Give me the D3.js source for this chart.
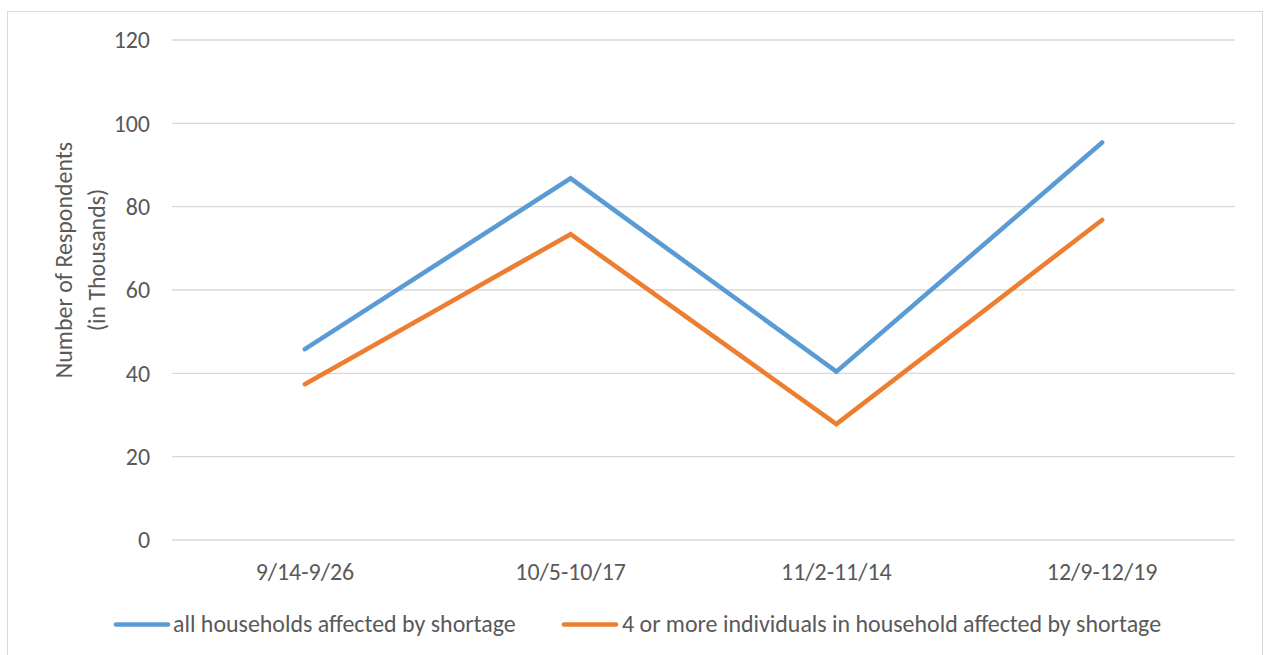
<!DOCTYPE html>
<html>
<head>
<meta charset="utf-8">
<script src="https://cdn.jsdelivr.net/npm/d3@7"></script>
<style>
  html, body { margin: 0; padding: 0; background: #fff; }
  svg { display: block; }
  text { font-family: Carlito, Calibri, Lato, "Open Sans", sans-serif; fill: #595959; }
</style>
</head>
<body>
<svg id="chart" width="1265" height="655"></svg>
<script>
const categories = ["9/14-9/26", "10/5-10/17", "11/2-11/14", "12/9-12/19"];
const seriesNames = ["all households affected by shortage", "4 or more individuals in household affected by shortage"];
const allHouseholds = [45.8, 86.8, 40.4, 95.4];
const fourOrMore = [37.4, 73.4, 27.8, 76.8];
const yTicks = [0, 20, 40, 60, 80, 100, 120];
const colors = ["#5B9BD5", "#ED7D31"];

const svg = d3.select("#chart");

// fit font size so text width resembles Calibri 24px
const probe = svg.append("text").attr("font-size", 24).text(seriesNames[0]);
const w = probe.node().getComputedTextLength();
probe.remove();
const fs = 24 * 343 / w;

// border
svg.append("rect").attr("x", 7.5).attr("y", 11.5).attr("width", 1255).attr("height", 660)
  .attr("fill", "none").attr("stroke", "#D9D9D9").attr("stroke-width", 1);

const x = d3.scaleBand().domain(categories).range([172, 1235]);
const y = d3.scaleLinear().domain([0, 120]).range([540, 40]);

// gridlines
svg.append("g").selectAll("line").data(yTicks).join("line")
  .attr("x1", 172).attr("x2", 1235)
  .attr("y1", d => y(d)).attr("y2", d => y(d))
  .attr("stroke", "#D9D9D9").attr("stroke-width", 1.3);

// y axis labels
const yAxis = d3.axisLeft(y).tickValues(yTicks).tickSize(0).tickPadding(0);
const gy = svg.append("g").attr("transform", "translate(150,0)").call(yAxis);
gy.select(".domain").remove();
gy.selectAll("text").attr("font-size", fs).attr("fill", "#595959")
  .style("font-family", "Carlito, Calibri, Lato, 'Open Sans', sans-serif")
  .attr("dy", "0.33em");

// x axis labels
const xAxis = d3.axisBottom(x).tickSize(0).tickPadding(0);
const gx = svg.append("g").attr("transform", "translate(0,580)").call(xAxis);
gx.select(".domain").remove();
gx.selectAll("text").attr("font-size", fs).attr("fill", "#595959")
  .style("font-family", "Carlito, Calibri, Lato, 'Open Sans', sans-serif")
  .attr("dy", 0).attr("y", 0);

// y title
const title = svg.append("text").attr("transform", "translate(72,260) rotate(-90)")
  .attr("text-anchor", "middle").attr("font-size", fs);
title.append("tspan").attr("x", 0).attr("y", 0).text("Number of Respondents");
title.append("tspan").attr("x", 0).attr("y", 33).text("(in Thousands)");

// lines
const line = d3.line().x((d, i) => x(categories[i]) + x.bandwidth() / 2).y(d => y(d));
[allHouseholds, fourOrMore].forEach((s, k) => {
  svg.append("path").datum(s).attr("d", line)
    .attr("fill", "none").attr("stroke", colors[k]).attr("stroke-width", 4.6)
    .attr("stroke-linecap", "round").attr("stroke-linejoin", "miter");
});

// legend
const legendPos = [{lx: 116, tx: 173}, {lx: 564, tx: 622}];
seriesNames.forEach((name, k) => {
  const p = legendPos[k];
  svg.append("line").attr("x1", p.lx).attr("x2", p.lx + 52).attr("y1", 624.5).attr("y2", 624.5)
    .attr("stroke", colors[k]).attr("stroke-width", 4.6).attr("stroke-linecap", "round");
  svg.append("text").attr("x", p.tx).attr("y", 632).attr("font-size", fs).text(name);
});
</script>
</body>
</html>
